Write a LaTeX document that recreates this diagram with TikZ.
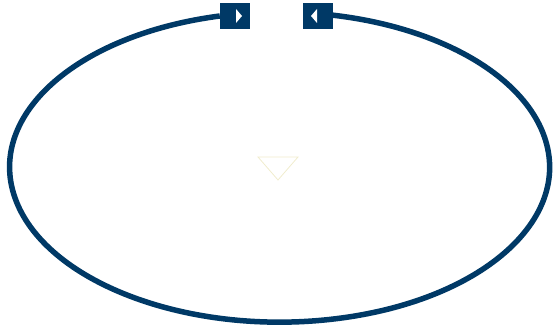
\documentclass[tikz,border=0pt]{standalone}
\usepackage{tikz}
\definecolor{navy}{RGB}{0, 57, 102}
\definecolor{paleyellow}{RGB}{240, 236, 205}
\usetikzlibrary{shapes.geometric, positioning}

\begin{document}
\begin{tikzpicture}[x=1pt, y=1pt,
    navbtn/.style={fill=navy, draw=none, minimum width=30pt, minimum height=26pt, inner sep=0pt},
    ring/.style={draw=navy, line width=5.5pt}
]
    \useasboundingbox (0,0) rectangle (557,326);

    \node[navbtn] (leftbtn) at (235,310) {};
    \node[navbtn] (rightbtn) at (318,310) {};
    % white arrow heads on the buttons
    \fill[white] ([xshift=7pt]leftbtn.center) -- ([xshift=1pt, yshift=7pt]leftbtn.center)
        -- ([xshift=1pt, yshift=-7pt]leftbtn.center) -- cycle;
    \fill[white] ([xshift=-7pt]rightbtn.center) -- ([xshift=-1pt, yshift=7pt]rightbtn.center)
        -- ([xshift=-1pt, yshift=-7pt]rightbtn.center) -- cycle;

    \draw[ring] (leftbtn.west) arc[start angle=102.8, end angle=438.7, x radius=270, y radius=155];

    % faint marker in the middle
    \draw[paleyellow, line width=0.8pt] (258,169) -- (298,169) -- (278,146) -- cycle;
\end{tikzpicture}
\end{document}
